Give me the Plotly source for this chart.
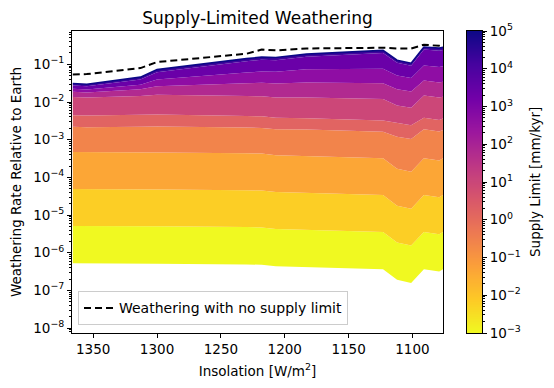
import numpy as np
import plotly.graph_objects as go

# Insolation nodes [W/m^2]
insolation = [1366, 1355, 1313, 1300, 1230, 1218, 1207, 1183, 1123, 1112, 1101, 1091, 1079, 1076]

# log10 of weathering rate relative to Earth
no_limit_log = [-1.27, -1.26, -1.10, -0.94, -0.72, -0.61, -0.63, -0.58, -0.56, -0.58, -0.58, -0.48, -0.51, -0.55]
# band boundaries (increasing supply limit), lowest first
bound_0 = [-6.28, -6.28, -6.29, -6.29, -6.31, -6.32, -6.36, -6.38, -6.44, -6.72, -6.80, -6.44, -6.50, -6.44]
bound_1 = [-5.29, -5.29, -5.30, -5.30, -5.32, -5.33, -5.37, -5.39, -5.45, -5.73, -5.81, -5.45, -5.51, -5.45]
bound_2 = [-4.31, -4.31, -4.32, -4.32, -4.34, -4.35, -4.39, -4.41, -4.47, -4.75, -4.83, -4.47, -4.53, -4.47]
bound_3 = [-3.33, -3.33, -3.34, -3.34, -3.36, -3.37, -3.41, -3.43, -3.49, -3.77, -3.85, -3.49, -3.55, -3.49]
bound_4 = [-2.66, -2.67, -2.66, -2.65, -2.68, -2.69, -2.72, -2.73, -2.79, -2.92, -2.98, -2.72, -2.78, -2.74]
bound_5 = [-2.35, -2.36, -2.34, -2.33, -2.37, -2.38, -2.42, -2.43, -2.49, -2.56, -2.62, -2.42, -2.48, -2.44]
bound_6 = [-1.87, -1.88, -1.84, -1.81, -1.84, -1.85, -1.88, -1.88, -1.92, -2.09, -2.15, -1.83, -1.88, -1.86]
bound_7 = [-1.73, -1.75, -1.66, -1.58, -1.50, -1.49, -1.51, -1.48, -1.50, -1.66, -1.72, -1.43, -1.48, -1.46]
bound_8 = [-1.65, -1.67, -1.54, -1.40, -1.22, -1.19, -1.20, -1.13, -1.12, -1.30, -1.36, -1.03, -1.07, -1.05]
bound_9 = [-1.56, -1.58, -1.40, -1.21, -0.92, -0.88, -0.89, -0.80, -0.70, -0.96, -1.04, -0.61, -0.64, -0.62]
bound_top = [-1.51, -1.53, -1.34, -1.14, -0.85, -0.81, -0.82, -0.73, -0.63, -0.89, -0.97, -0.54, -0.57, -0.55]

band_colors = ['#f0f921', '#fcce25', '#fca636', '#f2844b', '#e16462', '#cc4778', '#b12a90', '#8f0da4', '#6a00a8', '#41049d']
edge_color = '#0d0887'

y_tick_vals = [1e-8, 1e-7, 1e-6, 1e-5, 1e-4, 1e-3, 1e-2, 1e-1]
y_tick_text = ['10<sup>−8</sup>', '10<sup>−7</sup>', '10<sup>−6</sup>', '10<sup>−5</sup>', '10<sup>−4</sup>',
               '10<sup>−3</sup>', '10<sup>−2</sup>', '10<sup>−1</sup>']
cb_tick_vals = [1e-3, 1e-2, 1e-1, 1e0, 1e1, 1e2, 1e3, 1e4, 1e5]
cb_tick_text = ['10<sup>−3</sup>', '10<sup>−2</sup>', '10<sup>−1</sup>', '10<sup>0</sup>', '10<sup>1</sup>',
                '10<sup>2</sup>', '10<sup>3</sup>', '10<sup>4</sup>', '10<sup>5</sup>']
x_tick_vals = [1350, 1300, 1250, 1200, 1150, 1100]

bounds = [bound_0, bound_1, bound_2, bound_3, bound_4, bound_5, bound_6, bound_7, bound_8, bound_9, bound_top]

fig = go.Figure()
fig.add_trace(go.Scatter(x=insolation, y=10 ** np.array(bounds[0]), mode='lines', line=dict(width=0),
                         showlegend=False, hoverinfo='skip'))
for i in range(1, len(bounds)):
    fig.add_trace(go.Scatter(x=insolation, y=10 ** np.array(bounds[i]), mode='lines', line=dict(width=0),
                             fill='tonexty', fillcolor=band_colors[i - 1], showlegend=False, hoverinfo='skip'))
fig.add_trace(go.Scatter(x=insolation, y=10 ** np.array(bound_top), mode='lines', line=dict(color=edge_color, width=1.6),
                         showlegend=False, hoverinfo='skip'))
fig.add_trace(go.Scatter(x=insolation, y=10 ** np.array(no_limit_log), mode='lines',
                         line=dict(color='black', width=2, dash='7px,4px'), name='Weathering with no supply limit'))

cb_y = np.logspace(-3, 5, 300)
fig.add_trace(go.Heatmap(x=[0, 1], y=cb_y, z=[[v, v] for v in np.log10(cb_y)], colorscale='Plasma', reversescale=True,
                         showscale=False, xaxis='x2', yaxis='y2', hoverinfo='skip'))

# The page body adds an 8px margin, so the figure is 8px smaller and margins are shifted by 8px.
font = 'DejaVu Sans'
fs = 13.5
fig.update_layout(
    width=546, height=380,
    margin=dict(l=64, r=72, t=23, b=55, autoexpand=False),
    plot_bgcolor='white', paper_bgcolor='white',
    font=dict(family=font, size=fs, color='black'),
    title=dict(text='Supply-Limited Weathering', x=0.4525, xanchor='center', xref='paper', y=0.99, yanchor='top',
               font=dict(size=17)),
    xaxis=dict(domain=[0, 0.905], range=[1366.6, 1076], showline=True, linecolor='black', mirror=True,
               ticks='outside', ticklen=4, tickcolor='black', tickvals=x_tick_vals, automargin=False,
               showgrid=False, zeroline=False, tickfont=dict(size=fs),
               title=dict(text='Insolation [W/m<sup>2</sup>]', font=dict(size=fs), standoff=10)),
    yaxis=dict(type='log', range=[-8.13, -0.116], showline=True, linecolor='black', mirror=True, automargin=False,
               ticks='outside', ticklen=4, tickcolor='black', tickvals=y_tick_vals, ticktext=y_tick_text,
               showgrid=False, tickfont=dict(size=fs),
               minor=dict(ticks='outside', ticklen=2, tickcolor='black', showgrid=False, dtick='D1'),
               title=dict(text='Weathering Rate Relative to Earth', font=dict(size=fs), standoff=9)),
    xaxis2=dict(domain=[0.9627, 1.0], range=[0, 1], showticklabels=False, ticks='', showline=True, linecolor='black',
                mirror=True, anchor='y2', showgrid=False, zeroline=False, automargin=False),
    yaxis2=dict(type='log', range=[-3, 5], anchor='x2', side='right', showline=True, linecolor='black', mirror=True,
                ticks='outside', ticklen=4, tickcolor='black', tickvals=cb_tick_vals, ticktext=cb_tick_text,
                showgrid=False, tickfont=dict(size=fs), automargin=False,
                minor=dict(ticks='outside', ticklen=2, tickcolor='black', showgrid=False, dtick='D1')),
    legend=dict(x=0.0146, y=0.0255, xanchor='left', yanchor='bottom', bgcolor='rgba(255,255,255,0.8)',
                bordercolor='#cccccc', borderwidth=1, font=dict(size=14)),
    annotations=[dict(text='Supply Limit [mm/kyr]', textangle=-90, xref='paper', yref='paper',
                      x=1.0, xshift=53, y=0.5, showarrow=False, font=dict(size=fs), xanchor='center', yanchor='middle')],
)
fig.write_html('out.html')
